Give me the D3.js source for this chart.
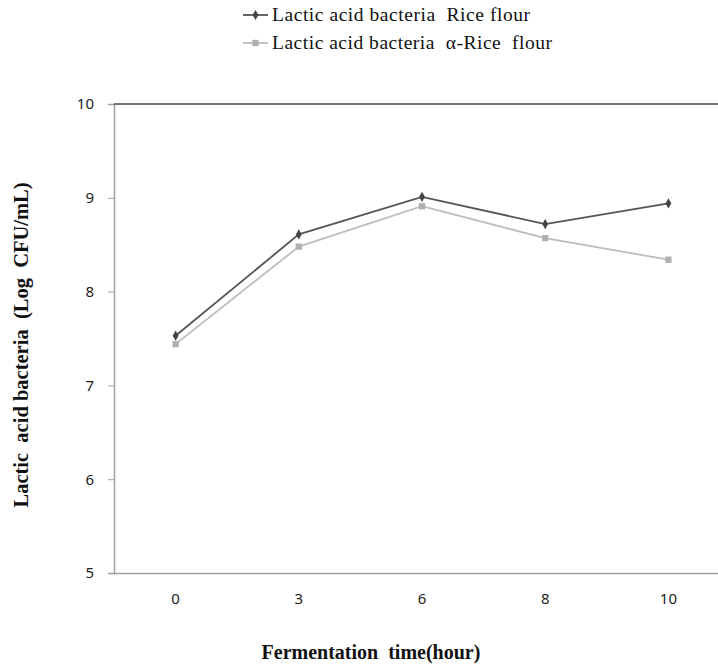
<!DOCTYPE html>
<html>
<head>
<meta charset="utf-8">
<script src="https://cdn.jsdelivr.net/npm/d3@7"></script>
<style>
body{margin:0;background:#fff;}
</style>
</head>
<body>
<svg id="chart"></svg>
<script>
var hours=["0","3","6","8","10"];
var riceFlour=[7.53,8.61,9.01,8.72,8.94];
var alphaRiceFlour=[7.44,8.48,8.91,8.57,8.34];
var yTicks=[5,6,7,8,9,10];
var seriesNames=["Lactic acid bacteria  Rice flour","Lactic acid bacteria  \u03b1-Rice  flour"];

var width=718;
var height=671;

var svg=d3.select("#chart")
.attr("width",width)
.attr("height",height);

var x=d3.scaleBand()
.domain(hours)
.range([114,730]);

var y=d3.scaleLinear()
.domain([5,10])
.range([573,104]);

// y axis
var yAxis=svg.append("g")
.attr("transform","translate(114,0)")
.call(d3.axisLeft(y).tickValues(yTicks).tickFormat(d3.format("d")).tickSize(6).tickPadding(14));
yAxis.select(".domain").attr("stroke","#a0a0a0").attr("stroke-width",1.5);
yAxis.selectAll(".tick line").attr("stroke","#a0a0a0");
yAxis.selectAll("text")
.attr("font-family","Noto Sans, sans-serif")
.attr("font-size",15)
.attr("fill","#222");

// x axis
var xAxis=svg.append("g")
.attr("transform","translate(0,573)")
.call(d3.axisBottom(x).tickSize(0).tickPadding(20));
xAxis.select(".domain").attr("stroke","#a0a0a0").attr("stroke-width",1.5);
xAxis.selectAll("text")
.attr("font-family","Noto Sans, sans-serif")
.attr("font-size",15)
.attr("fill","#222");

// top border
svg.append("line")
.attr("x1",114).attr("x2",width)
.attr("y1",y(10)).attr("y2",y(10))
.attr("stroke","#444").attr("stroke-width",1.5);

var line=d3.line()
.x(function(d,i){return x(hours[i])+x.bandwidth()/2;})
.y(function(d){return y(d);});

svg.append("path")
.datum(alphaRiceFlour)
.attr("d",line)
.attr("fill","none")
.attr("stroke","#bdbdbd")
.attr("stroke-width",1.8);

svg.append("path")
.datum(riceFlour)
.attr("d",line)
.attr("fill","none")
.attr("stroke","#555")
.attr("stroke-width",1.8);

var diamond=d3.symbol().type(d3.symbolDiamond).size(30);
var square=d3.symbol().type(d3.symbolSquare).size(40);

svg.selectAll(".sq")
.data(alphaRiceFlour)
.enter()
.append("path")
.attr("class","sq")
.attr("d",square)
.attr("transform",function(d,i){return "translate("+(x(hours[i])+x.bandwidth()/2)+","+y(d)+")";})
.attr("fill","#b0b0b0");

svg.selectAll(".dm")
.data(riceFlour)
.enter()
.append("path")
.attr("class","dm")
.attr("d",diamond)
.attr("transform",function(d,i){return "translate("+(x(hours[i])+x.bandwidth()/2)+","+y(d)+")";})
.attr("fill","#444");

// legend
var legend=svg.append("g");
var legendRows=[
  {name:seriesNames[0],color:"#555",sym:diamond,fill:"#444",y:15,w:258},
  {name:seriesNames[1],color:"#bdbdbd",sym:square,fill:"#b0b0b0",y:43,w:280}
];
legendRows.forEach(function(r){
  legend.append("line")
  .attr("x1",243).attr("x2",268)
  .attr("y1",r.y).attr("y2",r.y)
  .attr("stroke",r.color).attr("stroke-width",1.8);
  legend.append("path")
  .attr("d",r.sym)
  .attr("transform","translate(255.5,"+r.y+")")
  .attr("fill",r.fill);
  legend.append("text")
  .attr("x",272).attr("y",r.y+6)
  .attr("font-family","Liberation Serif, serif")
  .attr("font-size",19.5)
  .attr("fill","#111")
  .attr("textLength",r.w)
  .attr("lengthAdjust","spacing")
  .style("white-space","pre")
  .text(r.name);
});

// axis titles
svg.append("text")
.attr("x",371).attr("y",659)
.attr("text-anchor","middle")
.attr("font-family","Liberation Serif, serif")
.attr("font-weight","bold")
.attr("font-size",20)
.attr("fill","#111")
.style("white-space","pre")
.text("Fermentation  time(hour)");

svg.append("text")
.attr("transform","translate(28,345) rotate(-90)")
.attr("text-anchor","middle")
.attr("font-family","Liberation Serif, serif")
.attr("font-weight","bold")
.attr("font-size",20.5)
.attr("fill","#111")
.style("white-space","pre")
.text("Lactic  acid bacteria  (Log  CFU/mL)");
</script>
</body>
</html>
